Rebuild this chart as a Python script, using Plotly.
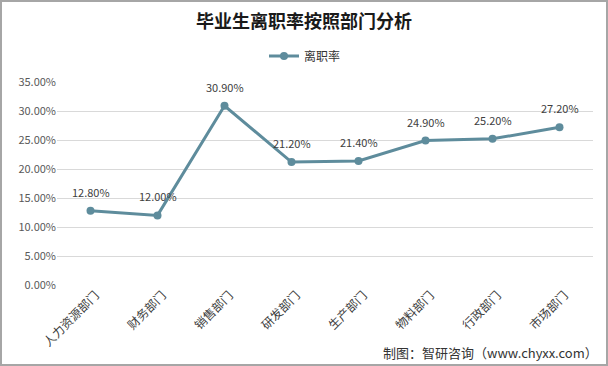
import plotly.graph_objects as go

categories = ["人力资源部门", "财务部门", "销售部门", "研发部门", "生产部门", "物料部门", "行政部门", "市场部门"]
rates = [0.128, 0.120, 0.309, 0.212, 0.214, 0.249, 0.252, 0.272]
labels = ["12.80%", "12.00%", "30.90%", "21.20%", "21.40%", "24.90%", "25.20%", "27.20%"]
series_name = "离职率"
title_text = "毕业生离职率按照部门分析"
source_text = "制图：智研咨询（www.chyxx.com）"

W, H = 608, 366
L, R, T, B = 57, 15, 82, 81
pw, ph = W - L - R, H - T - B

def px(x):
    return (x - L) / pw

def py(y):
    return (H - B - y) / ph

color = "#5E8C9C"
fig = go.Figure()
fig.add_trace(go.Scatter(
    x=categories, y=rates, mode="lines+markers", name=series_name,
    line=dict(color=color, width=3), marker=dict(color=color, size=8),
    cliponaxis=False,
))

for c, v, t in zip(categories, rates, labels):
    fig.add_annotation(x=c, y=v, text=t, showarrow=False, yshift=19,
                       font=dict(size=11, color="#404040", family="Noto Sans CJK SC"))

fig.update_layout(
    width=W, height=H,
    margin=dict(l=L, r=R, t=T, b=B, autoexpand=False),
    paper_bgcolor="white", plot_bgcolor="white",
    font=dict(family="Noto Sans CJK SC", color="#595959"),
    title=dict(text="<b>" + title_text + "</b>", x=0.5, xref="container", xanchor="center",
               y=1 - 22 / H, yanchor="middle",
               font=dict(size=18, color="#1a1a1a", family="Noto Sans CJK SC")),
    showlegend=True,
    legend=dict(orientation="h", x=px(305), xanchor="center", y=py(56), yanchor="middle",
                font=dict(size=12, color="#333333"), bgcolor="rgba(0,0,0,0)"),
    xaxis=dict(tickangle=-45, tickfont=dict(size=12, color="#404040"), showgrid=False,
               showline=False, ticks="", range=[-0.5, len(categories) - 0.5], automargin=False,
               ticklabelshift=5),
    yaxis=dict(range=[0, 0.35], dtick=0.05, tickformat=".2%", gridcolor="#d9d9d9",
               gridwidth=1, zeroline=False, showline=False, ticks="", automargin=False,
               tickfont=dict(size=11, color="#595959")),
)

fig.add_shape(type="rect", xref="paper", yref="paper",
              x0=px(1), x1=px(607), y0=py(365), y1=py(1),
              line=dict(color="#a6a6a6", width=2), layer="above")

fig.add_annotation(text=source_text, xref="paper", yref="paper",
                   x=px(600), y=py(352), xanchor="right", yanchor="middle",
                   showarrow=False, font=dict(size=13, color="#333333"))

fig.write_html("out.html", config={"displayModeBar": False},
               post_script="document.body.style.margin='0';document.body.style.overflow='hidden';")
